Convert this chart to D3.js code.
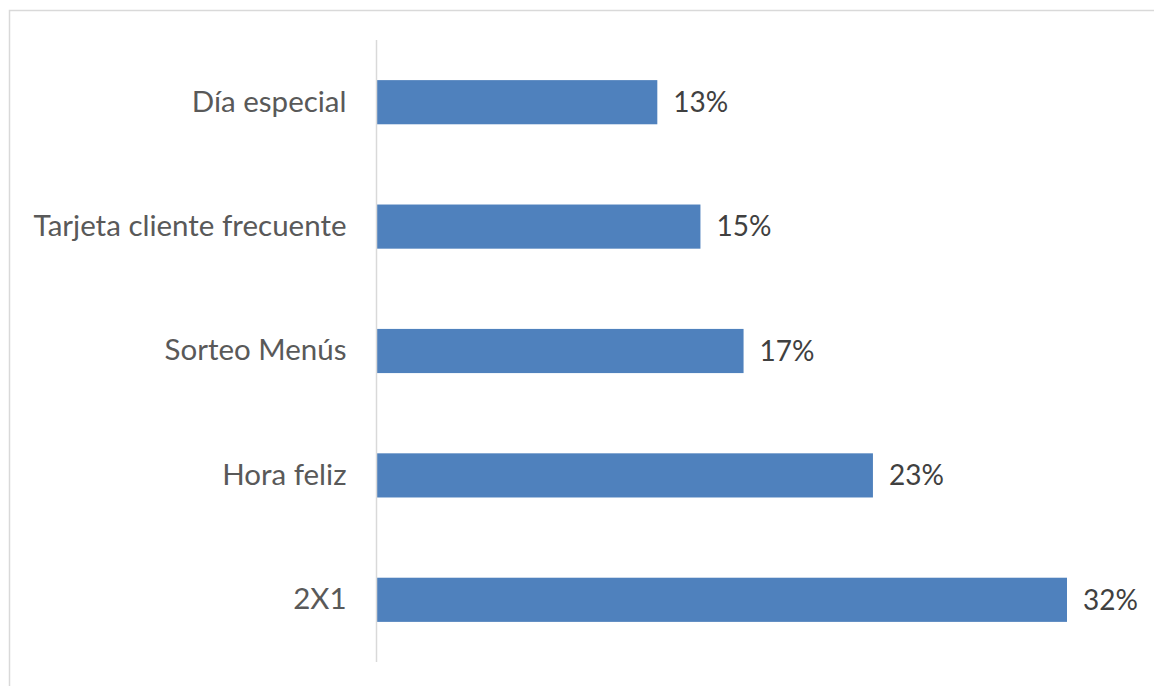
<!DOCTYPE html>
<html><head><meta charset="utf-8">
<script src="https://cdn.jsdelivr.net/npm/d3@7"></script>
<style>body{margin:0;background:#fff;}svg{display:block;}</style>
</head><body>
<svg id="chart" width="1154" height="686"></svg>
<script>
const categories = ["Día especial", "Tarjeta cliente frecuente", "Sorteo Menús", "Hora feliz", "2X1"];
const values = [13, 15, 17, 23, 32];
const valueLabels = ["13%", "15%", "17%", "23%", "32%"];

(function () {
const svg = d3.select("#chart");
const W = 1154, H = 686;
const font = "Lato, 'Open Sans', sans-serif";

// chart border
svg.append("rect").attr("x", 9.5).attr("y", 10.5).attr("width", W + 20).attr("height", H + 20)
  .attr("fill", "none").attr("stroke", "#d9d9d9").attr("stroke-width", 1.5);

const x0 = 377, plotTop = 40, plotBottom = 662;
const x = d3.scaleLinear().domain([0, 32]).range([x0, 1067]);
const y = d3.scaleBand().domain(categories).range([plotTop, plotBottom]).paddingInner(0.645).paddingOuter(0.3225);

svg.append("g").selectAll("rect").data(values).join("rect")
  .attr("x", x(0)).attr("y", (d, i) => y(categories[i]))
  .attr("width", d => x(d) - x(0)).attr("height", y.bandwidth())
  .attr("fill", "#4f81bd");

// axis
const axis = svg.append("g").attr("transform", `translate(${x0 - 0.5},0)`)
  .call(d3.axisLeft(y).tickSize(0).tickPadding(30));
axis.select(".domain").attr("stroke", "#d9d9d9").attr("stroke-width", 1.5)
  .attr("d", `M0,${plotTop}V${plotBottom}`);
axis.selectAll("text").attr("font-family", font).attr("font-size", 29.5).attr("fill", "#595959");

svg.append("g").selectAll("text").data(values).join("text")
  .attr("x", d => x(d) + 16).attr("y", (d, i) => y(categories[i]) + y.bandwidth() / 2)
  .attr("dy", "0.35em").attr("font-family", font).attr("font-size", 28).attr("fill", "#404040")
  .text((d, i) => valueLabels[i]);
})();
</script>
</body></html>
